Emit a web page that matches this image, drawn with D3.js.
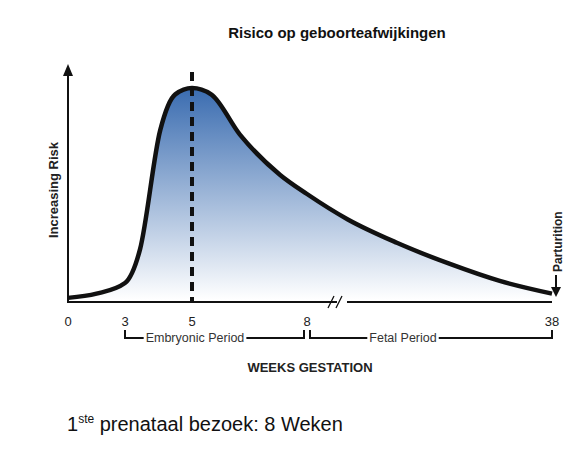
<!DOCTYPE html>
<html><head><meta charset="utf-8">
<script src="https://cdn.jsdelivr.net/npm/d3@7"></script>
<style>body{margin:0;background:#fff}text{font-family:"Liberation Sans",Arial,sans-serif}</style>
</head><body><svg id="c" width="587" height="451"></svg>
<script>
// weeks gestation vs relative risk (0-100)
const weeks = [0, 1.5, 3, 3.45, 4.05, 4.5, 5, 5.5, 6.25, 7.3, 8, 13, 19, 25.5, 31.6, 38];
const risk  = [1, 3, 8, 24, 80, 97, 100, 97, 78, 59, 50, 38, 27, 17, 9, 3];
const tickWeeks = [0, 3, 5, 8, 38];

const svg = d3.select("#c");
const x = d3.scaleLinear().domain(tickWeeks).range([68, 125, 192, 307, 552]);
const y = d3.scaleLinear().domain([0, 100]).range([300, 88]);
const data = weeks.map((w, i) => ({w, r: risk[i]}));

const grad = svg.append("defs").append("linearGradient").attr("id", "g")
  .attr("x1", 0).attr("x2", 0).attr("y1", 0).attr("y2", 1);
grad.append("stop").attr("offset", "0%").attr("stop-color", "#3a6cb0");
grad.append("stop").attr("offset", "100%").attr("stop-color", "#ffffff");

svg.append("path").datum(data).attr("fill", "url(#g)")
  .attr("d", d3.area().x(d => x(d.w)).y0(y(0)).y1(d => y(d.r)).curve(d3.curveMonotoneX));

svg.append("line").attr("x1", x(5)).attr("x2", x(5)).attr("y1", 72).attr("y2", 302)
  .attr("stroke", "#111").attr("stroke-width", 4).attr("stroke-dasharray", "9,6");

svg.append("path").datum(data).attr("fill", "none").attr("stroke", "#111").attr("stroke-width", 4.5)
  .attr("d", d3.line().x(d => x(d.w)).y(d => y(d.r)).curve(d3.curveMonotoneX));

// axes
svg.append("line").attr("x1", 68).attr("x2", 68).attr("y1", 72).attr("y2", 302).attr("stroke", "#111").attr("stroke-width", 2);
svg.append("path").attr("d", "M63,76 L68,64 L73,76 Z").attr("fill", "#111");
svg.append("line").attr("x1", 67).attr("x2", 337).attr("y1", 302).attr("y2", 302).attr("stroke", "#111").attr("stroke-width", 2);
svg.append("line").attr("x1", 347).attr("x2", 552).attr("y1", 302).attr("y2", 302).attr("stroke", "#111").attr("stroke-width", 2);
svg.append("path").attr("d", "M328,308 L334,296 M336,308 L342,296").attr("stroke", "#111").attr("stroke-width", 1.3);

svg.selectAll(".tk").data(tickWeeks).enter().append("text")
  .attr("x", d => x(d)).attr("y", 326).attr("text-anchor", "middle")
  .attr("font-size", 13).attr("fill", "#222").text(d => d);

// periods
const br = (a, b, label, lx) => {
  const t = svg.append("text").attr("x", lx).attr("y", 342).attr("text-anchor", "middle").attr("font-size", 12.5).attr("fill", "#333").text(label);
  const bb = t.node().getBBox();
  svg.append("path").attr("d", `M${a},330 V338 H${bb.x - 2} M${bb.x + bb.width + 2},338 H${b} V330`)
    .attr("fill", "none").attr("stroke", "#111").attr("stroke-width", 2);
};
br(x(3), x(8) - 3, "Embryonic Period", 195);
br(x(8) + 3, x(38), "Fetal Period", 403);

svg.append("text").attr("x", 310).attr("y", 372).attr("text-anchor", "middle").attr("font-size", 13)
  .attr("font-weight", "bold").attr("fill", "#222").text("WEEKS GESTATION");
svg.append("text").attr("transform", "translate(58,190) rotate(-90)").attr("text-anchor", "middle")
  .attr("font-size", 13).attr("font-weight", "bold").attr("fill", "#222").text("Increasing Risk");

// parturition
svg.append("text").attr("transform", "translate(562,272) rotate(-90)").attr("text-anchor", "start")
  .attr("font-size", 12).attr("font-weight", "bold").attr("fill", "#222").text("Parturition");
svg.append("line").attr("x1", 556).attr("x2", 556).attr("y1", 275).attr("y2", 290).attr("stroke", "#111").attr("stroke-width", 2);
svg.append("path").attr("d", "M551,287 L556,297 L561,287 Z").attr("fill", "#111");

svg.append("text").attr("x", 337).attr("y", 38).attr("text-anchor", "middle").attr("font-size", 15)
  .attr("font-weight", "bold").attr("fill", "#111").text("Risico op geboorteafwijkingen");

const f = svg.append("text").attr("x", 67).attr("y", 431).attr("font-size", 20).attr("fill", "#111");
f.append("tspan").text("1");
f.append("tspan").attr("font-size", 12).attr("dy", -8).text("ste");
f.append("tspan").attr("dy", 8).text(" prenataal bezoek: 8 Weken");
</script></body></html>
